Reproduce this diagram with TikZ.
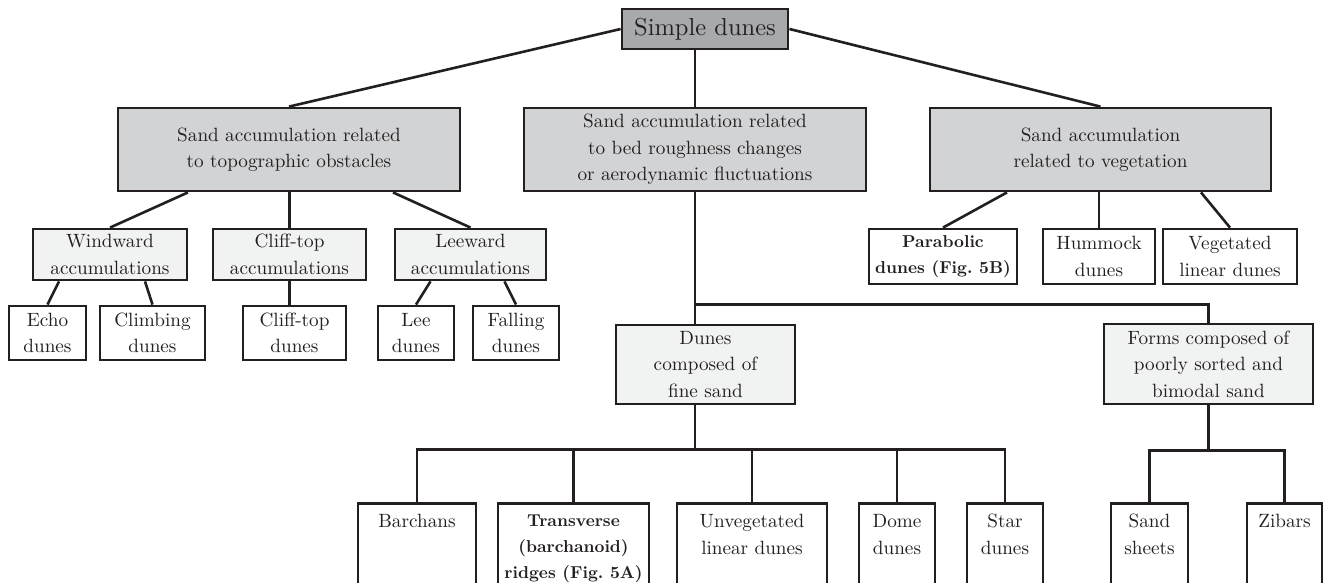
\documentclass[tikz,border=0pt]{standalone}
\usepackage{fontspec}
\setmainfont{lmroman10-regular.otf}[BoldFont=lmroman10-bold.otf]
\usetikzlibrary{calc}

\definecolor{boxline}{HTML}{231F20}
\definecolor{topfill}{HTML}{A7A9AC}
\definecolor{midfill}{HTML}{D1D3D4}
\definecolor{lowfill}{HTML}{F1F2F2}

\begin{document}
\begin{tikzpicture}[x=1pt, y=-1pt,
		every node/.style={font=\fontsize{19.2}{26.5}\selectfont, align=center, inner sep=0pt, text=boxline},
		box/.style 2 args={draw=boxline, line width=2.8pt, minimum width=#1pt, minimum height=#2pt},
		leaf/.style={draw=boxline, line width=2.8pt, fill=white, anchor=north, minimum width=#1pt, inner ysep=11pt, text depth=110pt},
		boldtext/.style={font=\fontsize{17.2}{26}\selectfont\bfseries},
		link/.style={draw=boxline, line width=2.6pt}]
		%%%%% START %%%%%
		
		\useasboundingbox (0,0) rectangle (1328,582);
		\clip (0,0) rectangle (1328,582);
		
		\node[box={166}{40}, fill=topfill, font=\fontsize{24.5}{28}\selectfont] (simple) at (705,29) {Simple dunes};
		
		\node[box={342}{83}, fill=midfill] (topo) at (289,149.5) {Sand accumulation related\\to topographic obstacles};
		\node[box={342}{83}, fill=midfill] (rough) at (695,149.5) {Sand accumulation related\\to bed roughness changes\\or aerodynamic fluctuations};
		\node[box={341}{83}, fill=midfill] (veg) at (1100.5,149.5) {Sand accumulation\\related to vegetation};
		
		% obstacles
		\node[box={154}{51}, fill=lowfill] (windward) at (110,254.5) {Windward\\accumulations};
		\node[box={153}{51}, fill=lowfill] (clifftop) at (289.5,254.5) {Cliff-top\\accumulations};
		\node[box={151}{51}, fill=lowfill] (leeward) at (470.5,254.5) {Leeward\\accumulations};
		\node[box={77}{54}, fill=white] (echo) at (47.5,333) {Echo\\dunes};
		\node[box={105}{54}, fill=white] (climbing) at (152.5,333) {Climbing\\dunes};
		\node[box={103}{54}, fill=white] (cliffdunes) at (294.5,333) {Cliff-top\\dunes};
		\node[box={76}{54}, fill=white] (lee) at (416,333) {Lee\\dunes};
		\node[box={86}{54}, fill=white] (falling) at (516,333) {Falling\\dunes};
		
		% vegetation
		\node[box={148}{55}, fill=white, boldtext] (parabolic) at (943,256.5) {Parabolic\\dunes (Fig.~5B)};
		\node[box={112}{55}, fill=white] (hummock) at (1099,256.5) {Hummock\\dunes};
		\node[box={134}{55}, fill=white] (vegetated) at (1230,256.5) {Vegetated\\linear dunes};
		
		% bed roughness
		\node[box={179}{79}, fill=lowfill] (fine) at (705.5,364.5) {Dunes\\composed of\\fine sand};
		\node[box={209}{80}, fill=lowfill] (poor) at (1208.5,364) {Forms composed of\\poorly sorted and\\bimodal sand};
		
		\node[leaf=118] (barchans) at (417,502) {Barchans};
		\node[leaf=151, boldtext] (transverse) at (573.5,502) {Transverse\\(barchanoid)\\ridges (Fig.~5A)};
		\node[leaf=150] (unveg) at (752,502) {Unvegetated\\linear dunes};
		\node[leaf=76] (dome) at (897,502) {Dome\\dunes};
		\node[leaf=76] (star) at (1005,502) {Star\\dunes};
		\node[leaf=77] (sheets) at (1149.5,502) {Sand\\sheets};
		\node[leaf=75] (zibars) at (1284.5,502) {Zibars};
		
		% links
		\draw[link] (simple.west) -- (topo.north);
		\draw[link] (simple.east) -- (veg.north);
		\draw[link] (rough.north) -- (rough.north |- simple.south);
		
		\draw[link] ([xshift=-101pt]topo.south) -- (windward.north);
		\draw[link] (clifftop.north) -- (clifftop.north |- topo.south);
		\draw[link] ([xshift=104pt]topo.south) -- (leeward.north);
		\draw[link] ([xshift=-51pt]windward.south) -- (echo.north);
		\draw[link] ([xshift=35pt]windward.south) -- (climbing.north);
		\draw[link] (clifftop.south) -- (clifftop.south |- cliffdunes.north);
		\draw[link] ([xshift=-40pt]leeward.south) -- (lee.north);
		\draw[link] ([xshift=34pt]leeward.south) -- (falling.north);
		
		\draw[link] ([xshift=-93.5pt]veg.south) -- (parabolic.north);
		\draw[link] (hummock.north) -- (hummock.north |- veg.south);
		\draw[link] ([xshift=100.5pt]veg.south) -- (vegetated.north);
		
		\draw[link] (rough.south) -- (rough.south |- fine.north);
		\path (rough.south) ++(0,112) coordinate (fork);
		\draw[link] (fork) -| (poor.north);
		
		\path (fine.south) ++(0,44) coordinate (busfine);
		\draw[link] (rough.south |- fine.south) -- (rough.south |- busfine);
		\draw[link] (barchans.north) |- (star.north |- busfine) -- (star.north);
		\foreach \n in {transverse,unveg,dome}
			\draw[link] (\n.north) -- (\n.north |- busfine);
		
		\path (poor.south) ++(0,45) coordinate (buspoor);
		\draw[link] (poor.south) -- (buspoor);
		\draw[link] (sheets.north) |- (zibars.north |- buspoor) -- (zibars.north);
		
		%%%%% END %%%%%
	\end{tikzpicture}
\end{document}
